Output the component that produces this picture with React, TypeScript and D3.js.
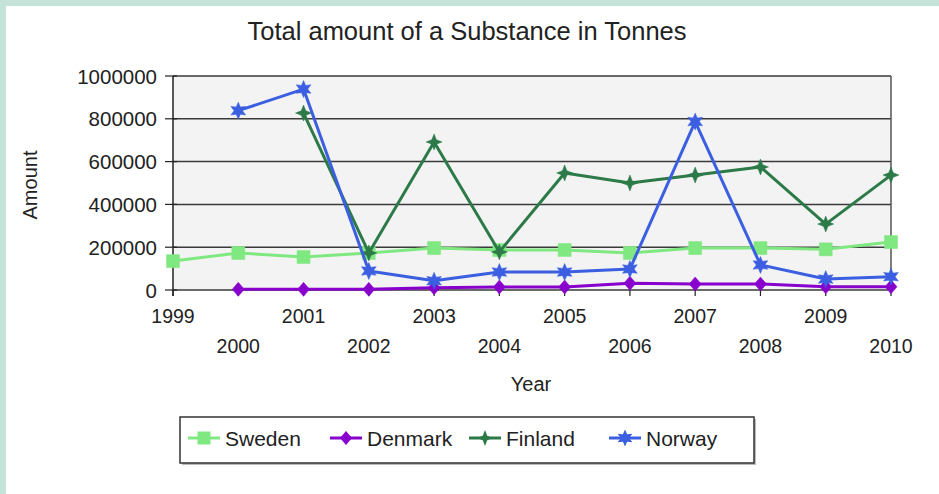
import React from "react";
import * as d3 from "d3";

const years = ["1999","2000","2001","2002","2003","2004","2005","2006","2007","2008","2009","2010"];
const sweden: (number|null)[] = [135000,173000,154000,173000,196000,187000,187000,173000,196000,196000,190000,224000];
const denmark: (number|null)[] = [null,3000,3000,3000,10000,14000,14000,32000,28000,28000,15000,15000];
const finland: (number|null)[] = [null,null,827000,173000,692000,178000,547000,500000,537000,575000,308000,537000];
const norway: (number|null)[] = [null,838000,939000,89000,43000,84000,84000,98000,787000,117000,51000,62000];
const yTicks = [0,200000,400000,600000,800000,1000000];

const seriesNames = ["Sweden","Denmark","Finland","Norway"];
const seriesData = [sweden, denmark, finland, norway];
const seriesColors = ["#80e880","#8800cc","#2b7a48","#3b5fe0"];

const W = 939, H = 494;
const L = 173, R = 891, T = 76, B = 290;
const FONT = "'Liberation Sans', Arial, sans-serif";

function starPath(n: number, outer: number, inner: number, rot = -Math.PI / 2) {
  const pts: [number, number][] = [];
  for (let i = 0; i < n * 2; i++) {
    const r = i % 2 === 0 ? outer : inner;
    const a = rot + (i * Math.PI) / n;
    pts.push([r * Math.cos(a), r * Math.sin(a)]);
  }
  return "M" + pts.map(p => p[0].toFixed(2) + "," + p[1].toFixed(2)).join("L") + "Z";
}

const markerPaths = [
  "M-6.5,-6.5L6.5,-6.5L6.5,6.5L-6.5,6.5Z",
  "M0,-7L6,0L0,7L-6,0Z",
  starPath(4, 8, 3.2),
  starPath(6, 8.5, 4.2),
];

export default function App() {
  const x = d3.scalePoint<string>().domain(years).range([L, R]);
  const y = d3.scaleLinear().domain([0, 1000000]).range([B, T]);
  const line = d3.line<number|null>()
    .defined(d => d !== null)
    .x((_, i) => x(years[i]) as number)
    .y(d => y(d as number));

  const legendX = [204, 346, 485, 625];

  return (
    <svg width={W} height={H} style={{ position: "absolute", left: 0, top: 0 }} fontFamily={FONT}>
      <rect x={0} y={0} width={W} height={H} fill="#ffffff" />
      <rect x={0} y={0} width={W} height={6} fill="#c5e3d9" />
      <rect x={0} y={0} width={6} height={H} fill="#c5e3d9" />

      <text x={467} y={31} textAnchor="middle" dominantBaseline="central" fontSize={25.5} fill="#222">
        Total amount of a Substance in Tonnes
      </text>

      <rect x={L} y={T} width={R - L} height={B - T} fill="#f3f3f3" />
      {yTicks.map(t => (
        <line key={t} x1={L} x2={R} y1={y(t)} y2={y(t)} stroke="#3a3a3a" strokeWidth={1.5} />
      ))}
      <line x1={R} x2={R} y1={T} y2={B} stroke="#555" strokeWidth={1.5} />
      <line x1={L} x2={L} y1={T} y2={B + 6} stroke="#222" strokeWidth={1.5} />
      {yTicks.map(t => (
        <g key={"yt" + t}>
          <line x1={L - 8} x2={L + 4} y1={y(t)} y2={y(t)} stroke="#222" strokeWidth={1.2} />
          <text x={157} y={y(t)} textAnchor="end" dominantBaseline="central" fontSize={20.5} fill="#222">
            {t}
          </text>
        </g>
      ))}
      {years.map((yr, i) => (
        <g key={yr}>
          <line x1={x(yr)} x2={x(yr)} y1={B} y2={B + 6} stroke="#222" strokeWidth={1.2} />
          <text x={x(yr)} y={i % 2 === 0 ? 316 : 346} textAnchor="middle" dominantBaseline="central" fontSize={19.5} fill="#222">
            {yr}
          </text>
        </g>
      ))}
      <text x={531} y={384} textAnchor="middle" dominantBaseline="central" fontSize={20} fill="#222">Year</text>
      <text transform="translate(30,185) rotate(-90)" textAnchor="middle" dominantBaseline="central" fontSize={20} fill="#222">Amount</text>

      {seriesData.map((data, s) => (
        <g key={seriesNames[s]}>
          <path d={line(data) || ""} fill="none" stroke={seriesColors[s]} strokeWidth={3} strokeLinejoin="round" />
          {data.map((d, i) => d === null ? null : (
            <path key={i} d={markerPaths[s]} transform={`translate(${x(years[i])},${y(d)})`} fill={seriesColors[s]} stroke={seriesColors[s]} strokeWidth={0.5} />
          ))}
        </g>
      ))}

      <rect x={182} y={419} width={574} height={46} fill="#bbb" />
      <rect x={180} y={417} width={574} height={46} fill="#fff" stroke="#333" strokeWidth={1.5} />
      {seriesNames.map((n, s) => (
        <g key={"lg" + n}>
          <line x1={legendX[s] - 16} x2={legendX[s] + 16} y1={438} y2={438} stroke={seriesColors[s]} strokeWidth={3} />
          <path d={markerPaths[s]} transform={`translate(${legendX[s]},438)`} fill={seriesColors[s]} />
          <text x={legendX[s] + 21} y={438} dominantBaseline="central" fontSize={21} fill="#222">{n}</text>
        </g>
      ))}
    </svg>
  );
}
